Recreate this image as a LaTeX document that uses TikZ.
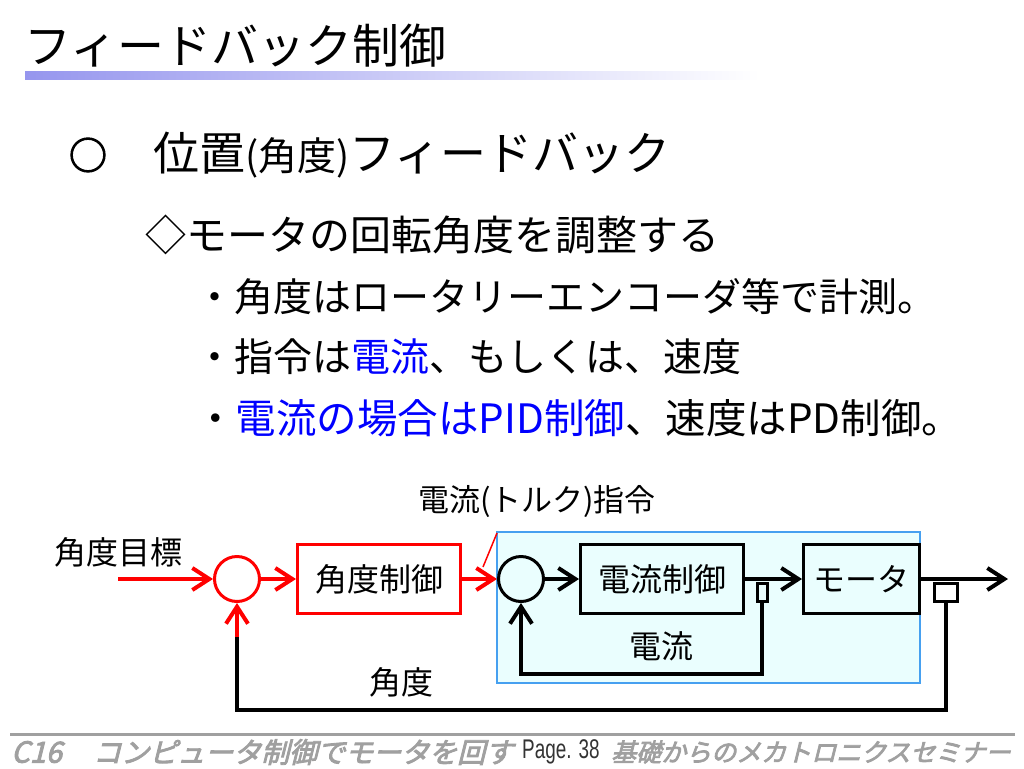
\documentclass[tikz,border=0pt]{standalone}
\usepackage{fontspec}
\setmainfont{Noto Sans CJK JP}
\newfontfamily\footfont[FakeSlant=0.25,FakeBold=3]{Noto Sans CJK JP}
\newfontfamily\markfont[FakeBold=3]{Noto Sans CJK JP}
\newfontfamily\pagefont[FakeStretch=0.7]{Liberation Sans}
\usepackage{tikz}
\usetikzlibrary{arrows.meta,positioning}
\definecolor{slideblue}{RGB}{0,0,255}
\definecolor{boxcyan}{RGB}{234,254,254}
\definecolor{boxedge}{RGB}{70,160,240}
\definecolor{footgray}{RGB}{160,160,160}
\definecolor{barblue}{RGB}{150,150,238}
\newcommand{\fs}[1]{\fontsize{#1}{#1}\selectfont}

\begin{document}
\begin{tikzpicture}[x=1pt,y=-1pt,
		txt/.style={inner sep=0pt, anchor=west},
		blk/.style={draw, line width=3pt, minimum height=69pt, inner sep=0pt, font=\fs{32}},
		sum/.style={circle, draw, line width=3pt, minimum size=45pt, inner sep=0pt},
		sens/.style={draw, line width=3pt, minimum height=18pt, inner sep=0pt, anchor=north},
		sig/.style={line width=4pt, -{Straight Barb[length=17pt,width=22pt]}},
		wire/.style={line width=4pt}]
		\useasboundingbox (0,0) rectangle (1024,768);
		\node[txt, font=\fs{47}] (title) at (24,46) {フィードバック制御};
		\shade[left color=barblue, right color=white] (25,71) rectangle (760,79);
		\node[font=\markfont\fs{38}, inner sep=0pt] (circ) at (88,155) {○};
		\node[txt, font=\fs{46}] (topic) at (153,155) {位置{\fs{39}(角度)}フィードバック};
		\node[txt, font=\fs{41}] (sub) at (145,235) {◇モータの回転角度を調整する};
		\foreach \y/\s/\t in {297/39/{・角度はロータリーエンコーダ等で計測。}, 357/39/{・指令は{\color{slideblue}電流}、もしくは、速度}, 418/40.5/{・{\color{slideblue}電流の場合はPID制御}、速度はPD制御。}}
			\node[txt, font=\fs{\s}] (item\y) at (195,\y) {\t};
		% current loop region
		\node[draw=boxedge, fill=boxcyan, line width=2pt, minimum width=423pt, minimum height=151pt, inner sep=0pt] (curloop) at (708.5,607.5) {};
		\node[sum, draw=red] (sum1) at (237,579) {};
		\node[blk, draw=red, minimum width=163pt, right=35pt of sum1] (ang) {角度制御};
		\node[sum, right=35pt of ang] (sum2) {};
		\node[blk, minimum width=163pt, right=34pt of sum2] (cur) {電流制御};
		\node[blk, minimum width=116pt, right=57pt of cur] (mot) {モータ};
		\node[sens, minimum width=10pt] (s1) at (762,582) {};
		\node[sens, minimum width=23pt] (s2) at (946,582) {};
		\coordinate (tgtin) at (118,579);
		\coordinate (out) at (1008,579);
		\coordinate (angfb) at (237,637);
		\draw[sig, red] (tgtin) -- (sum1.west);
		\draw[sig, red] (sum1.east) -- (ang.west);
		\draw[sig, red] (ang.east) -- (sum2.west);
		\draw[sig] (sum2.east) -- (cur.west);
		\draw[sig] (cur.east) -- (mot.west);
		\draw[sig] (mot.east) -- (out);
		\draw[sig] (s1.south) -- ++(0,71) -| (sum2.south);
		\draw[wire] (s2.south) -- ++(0,107) -| (angfb);
		\draw[sig, red] (angfb) -- (sum1.south);
		\node[font=\fs{32}] (tgtlbl) at (118,552) {角度目標};
		\node[font=\fs{31}] (cmdlbl) at (537,502) {電流(トルク)指令};
		\node[font=\fs{32}] (anglbl) at (401,682) {角度};
		\node[font=\fs{32}] (curlbl) at (661,646) {電流};
		\coordinate (leadtop) at (497,533);
		\coordinate (leadbot) at (483,567);
		\draw[red, line width=1.5pt] (leadtop) -- (leadbot);
		% footer
		\draw[footgray, line width=3pt] (10,734) -- (1015,734);
		\node[txt, footgray, font=\footfont\fs{29}] (fcode) at (11,752) {C16};
		\node[txt, footgray, font=\footfont\fs{28}] (ftitle) at (93,752) {コンピュータ制御でモータを回す};
		\node[txt, black!80, font=\pagefont\fs{27}] (fpage) at (522,752) {Page. 38};
		\node[txt, footgray, font=\footfont\fs{25}] (fsem) at (611,752) {基礎からのメカトロニクスセミナー};
\end{tikzpicture}
\end{document}
